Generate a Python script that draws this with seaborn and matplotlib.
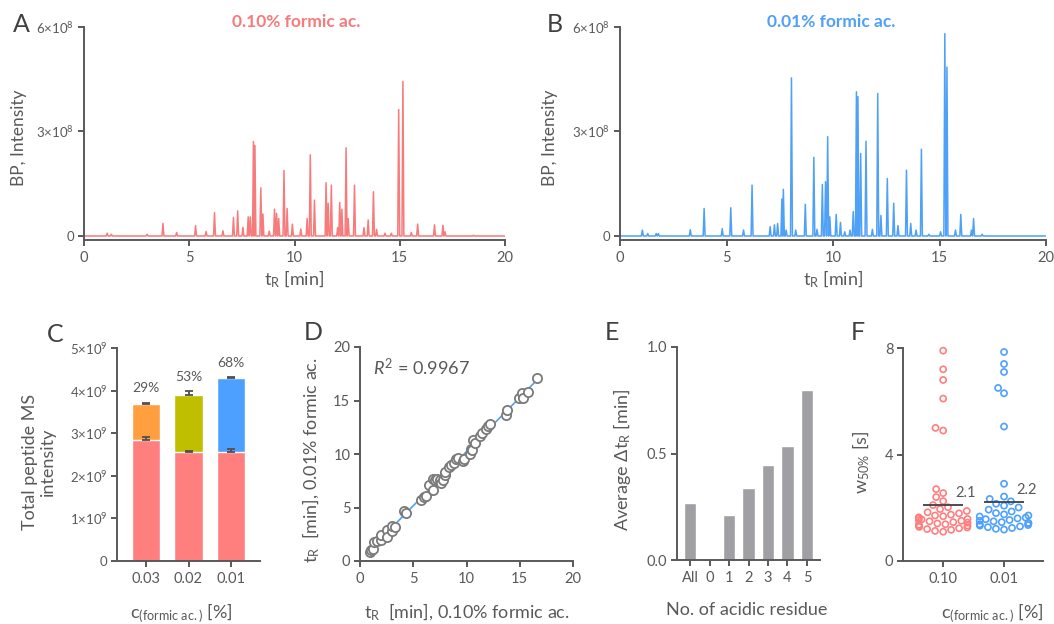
import numpy as np
import pandas as pd
import matplotlib
matplotlib.use("Agg")
import matplotlib.pyplot as plt
import seaborn as sns

# ---------------- data ----------------
# Panel A: 0.10 % formic acid chromatogram peaks (time [min], height [x1e8])
peaks_a_t = [1.1, 1.3, 3.0, 3.75, 4.4, 5.3, 5.8, 6.2, 6.6, 7.1,
             7.3, 7.55, 7.8, 7.9, 8.05, 8.12, 8.4, 8.5, 8.8, 9.05,
             9.15, 9.25, 9.5, 9.65, 9.9, 10.3, 10.6, 10.75, 10.95, 11.5,
             11.6, 11.75, 12.05, 12.15, 12.25, 12.45, 12.55, 12.85, 13.3, 13.5,
             13.75, 13.9, 14.3, 14.6, 14.95, 15.15, 15.55, 15.85, 16.65, 17.05,
             17.15, 18.5]
peaks_a_h = [0.08, 0.05, 0.05, 0.36, 0.10, 0.30, 0.13, 0.67, 0.15, 0.53,
             0.72, 0.25, 0.55, 0.55, 2.71, 2.60, 1.38, 0.63, 0.14, 0.77,
             0.65, 0.50, 1.88, 0.79, 0.34, 0.20, 0.50, 2.33, 1.03, 1.53,
             0.94, 1.46, 0.24, 0.96, 0.77, 2.53, 0.50, 1.46, 0.24, 0.46,
             1.27, 0.19, 0.08, 0.08, 3.63, 4.44, 0.10, 0.34, 0.32, 0.31,
             0.12, 0.02]
# Panel B: 0.01 % formic acid chromatogram peaks
peaks_b_t = [1.05, 1.3, 1.7, 1.8, 3.3, 3.95, 4.8, 5.2, 5.8, 6.2,
             7.05, 7.25, 7.4, 7.6, 7.67, 7.8, 8.05, 8.25, 8.7, 9.1,
             9.25, 9.5, 9.65, 9.75, 9.85, 10.15, 10.35, 10.55, 10.8, 10.95,
             11.1, 11.17, 11.3, 11.55, 11.85, 12.1, 12.25, 12.55, 12.85, 13.05,
             13.45, 13.65, 13.9, 14.15, 14.5, 15.05, 15.25, 15.35, 15.75, 16.0,
             16.5, 16.6, 17.0]
peaks_b_h = [0.17, 0.07, 0.07, 0.07, 0.18, 0.79, 0.21, 0.81, 0.17, 1.46,
             0.27, 0.32, 0.36, 1.06, 1.34, 0.17, 4.54, 0.17, 0.91, 2.26,
             0.19, 1.48, 1.56, 2.85, 0.55, 0.62, 0.39, 0.12, 0.17, 0.70,
             4.14, 4.00, 2.37, 2.72, 0.19, 4.09, 0.59, 1.65, 0.94, 0.30,
             1.89, 0.36, 0.17, 2.49, 0.05, 0.12, 5.81, 4.85, 0.17, 0.62,
             0.17, 0.50, 0.05]

# Panel C
conc_c = ["0.03", "0.02", "0.01"]
base_int = [2.83e9, 2.55e9, 2.55e9]
base_err = [0.09e9, 0.03e9, 0.07e9]
total_int = [3.69e9, 3.90e9, 4.30e9]
total_err = [0.03e9, 0.09e9, 0.02e9]
pct_labels = ["29%", "53%", "68%"]

# Panel D
tr_010 = [0.9, 1.0, 1.2, 1.3, 1.6, 2.0, 2.0, 2.5, 2.5, 3.0, 3.0, 3.3, 4.1, 4.3,
          5.7, 6.0, 6.2, 6.5, 6.9, 6.9, 7.0, 7.2, 7.5, 7.6, 7.8, 8.0, 8.0, 8.4,
          8.5, 8.8, 9.0, 9.2, 9.7, 9.8, 10.3, 10.4, 10.5, 10.6, 10.8, 11.3, 11.5,
          11.8, 12.0, 12.2, 13.7, 13.8, 14.9, 15.2, 15.3, 15.8, 16.6]
tr_001 = [0.8, 1.0, 1.1, 1.8, 1.9, 2.0, 2.4, 2.9, 2.2, 2.8, 3.3, 3.2, 4.7, 4.5,
          5.7, 6.0, 6.1, 7.1, 6.6, 7.7, 7.6, 7.7, 7.6, 7.3, 7.6, 8.0, 8.3, 8.8,
          9.0, 9.2, 9.5, 9.6, 9.3, 9.5, 10.0, 10.5, 10.4, 11.3, 11.0, 11.7, 12.0,
          12.3, 12.6, 12.8, 13.6, 14.1, 15.2, 15.7, 15.2, 15.8, 17.1]
r2_text = "0.9967"

# Panel E
residues = ["All", "0", "1", "2", "3", "4", "5"]
avg_dtr = [0.266, 0.0, 0.209, 0.338, 0.448, 0.535, 0.796]

# Panel F
w50_010 = [7.9, 7.2, 6.8, 6.1, 5.0, 4.9, 2.7, 2.55, 2.4, 2.25, 2.1, 2.02, 1.95,
           1.88, 1.83, 1.79, 1.74, 1.71, 1.68, 1.64, 1.61, 1.58, 1.56, 1.53,
           1.51, 1.49, 1.46, 1.44, 1.41, 1.38, 1.36, 1.33, 1.31, 1.28, 1.26,
           1.23, 1.2, 1.17, 1.13, 1.1]
w50_001 = [7.85, 7.4, 7.1, 6.5, 6.3, 5.05, 2.9, 2.42, 2.33, 2.24, 2.15, 2.08,
           2.01, 1.93, 1.86, 1.8, 1.75, 1.71, 1.67, 1.63, 1.6, 1.57, 1.54, 1.51,
           1.49, 1.46, 1.43, 1.41, 1.38, 1.35, 1.33, 1.3, 1.27, 1.24, 1.21, 1.18]
conc_f = ["0.10", "0.01"]
w50_means = [2.1, 2.2]

# ---------------- style ----------------
sns.set_theme(style="ticks")
GREY = "#595959"
RED = "#FF7F7F"
RED_LINE = "#F77B7B"
BLUE = "#4DA0FF"
BLUE_LINE = "#4FA0F7"
ORANGE = "#FF9F40"
OLIVE = "#BFBF00"
BARGREY = "#A0A0A4"
FONT = ["Lato", "DejaVu Sans"]
plt.rcParams["font.family"] = FONT
plt.rcParams.update({
    "mathtext.fontset": "custom",
    "mathtext.rm": "Lato",
    "mathtext.it": "Lato:italic",
    "mathtext.default": "regular",
    "axes.edgecolor": GREY, "axes.linewidth": 1.4,
    "xtick.color": GREY, "ytick.color": GREY,
    "xtick.labelcolor": GREY, "ytick.labelcolor": GREY,
    "text.color": GREY, "axes.labelcolor": GREY,
    "xtick.major.width": 1.4, "ytick.major.width": 1.4,
    "xtick.major.size": 4, "ytick.major.size": 4,
    "xtick.major.pad": 4, "ytick.major.pad": 3,
})

W, H = 1054, 624
fig = plt.figure(figsize=(W / 100, H / 100), dpi=100)


def add_ax(x0, x1, ytop, ybot):
    return fig.add_axes([x0 / W, 1 - ybot / H, (x1 - x0) / W, (ybot - ytop) / H])


def style(ax):
    sns.despine(ax=ax)
    ax.set_facecolor("none")


def sci(m, e):
    return "0" if m == 0 else f"{m}×10$^{{{e}}}$"


def trace(ts, hs, w=0.045):
    xs, ys = [0.0], [0.0]
    for t, h in sorted(zip(ts, hs)):
        xs += [t - w, t, t + w]
        ys += [0.0, h * 1e8, 0.0]
    xs.append(20.0)
    ys.append(0.0)
    return xs, ys


BOTTOM_LABEL_Y = -0.19

# ---------------- A & B ----------------
for (x0, x1, ts, hs, col, title, tx, letter, lx, lab_x) in [
        (84, 505, peaks_a_t, peaks_a_h, RED_LINE, "0.10% formic ac.", 296, "A", 21, -0.135),
        (620, 1046, peaks_b_t, peaks_b_h, BLUE_LINE, "0.01% formic ac.", 831, "B", 555, -0.146)]:
    ax = add_ax(x0, x1, 27, 240)
    xs, ys = trace(ts, hs)
    sns.lineplot(x=xs, y=ys, sort=False, estimator=None, color=col, lw=1.1, ax=ax)
    ax.set_xlim(0, 20)
    ax.set_ylim(-0.115e8, 6e8)
    ax.set_xticks([0, 5, 10, 15, 20])
    ax.set_xticklabels(["0", "5", "10", "15", "20"], fontsize=10.5)
    ax.set_yticks([0, 3e8, 6e8])
    ax.set_yticklabels([sci(0, 8), sci(3, 8), sci(6, 8)], fontsize=9.5)
    ax.set_xlabel("t$_R$ [min]", fontsize=13)
    ax.xaxis.set_label_coords(0.5, -0.135)
    ax.set_ylabel("BP, Intensity", fontsize=12.5)
    ax.yaxis.set_label_coords(lab_x, 0.48)
    style(ax)
    fig.text(tx / W, 1 - 22 / H, title, color=col, fontsize=12.5,
             fontweight="bold", ha="center", va="center")
    fig.text(lx / W, 1 - 24 / H, letter, fontsize=18, ha="center", va="center",
             color="#404040")

# ---------------- C ----------------
axc = add_ax(117, 260, 348, 561)
sns.barplot(x=conc_c, y=total_int, order=conc_c, hue=conc_c,
            palette=[ORANGE, OLIVE, BLUE], legend=False, width=0.67,
            saturation=1, ax=axc)
sns.barplot(x=conc_c, y=base_int, order=conc_c, color=RED, width=0.67,
            saturation=1, ax=axc)
pos = np.arange(len(conc_c))
axc.errorbar(pos, base_int, yerr=[np.zeros(3), base_err], fmt="none",
             ecolor="#505050", elinewidth=1.3, capsize=3, capthick=1.3)
axc.errorbar(pos, total_int, yerr=[np.zeros(3), total_err], fmt="none",
             ecolor="#505050", elinewidth=1.3, capsize=3, capthick=1.3)
for p, t, e, lab in zip(pos, total_int, total_err, pct_labels):
    axc.annotate(lab, (p, t + e), xytext=(0, 6), textcoords="offset points",
                 ha="center", va="bottom", fontsize=10, color=GREY)
axc.set_xlim(-0.68, 2.68)
axc.set_ylim(0, 5e9)
axc.set_yticks([0, 1e9, 2e9, 3e9, 4e9, 5e9])
axc.set_yticklabels([sci(i, 9) for i in range(6)], fontsize=9.5)
axc.tick_params(axis="x", labelsize=10.5)
axc.set_xlabel("c$_{(formic\\ ac.)}$ [%]", fontsize=13)
axc.xaxis.set_label_coords(0.45, BOTTOM_LABEL_Y)
axc.set_ylabel("Total peptide MS\nintensity", fontsize=13, linespacing=1.1)
axc.yaxis.set_label_coords(-0.43, 0.465)
style(axc)
fig.text(55 / W, 1 - 334 / H, "C", fontsize=18, ha="center", va="center", color="#404040")

# ---------------- D ----------------
axd = add_ax(360, 573, 347, 561)
dfd = pd.DataFrame({"x": tr_010, "y": tr_001})
sns.regplot(data=dfd, x="x", y="y", scatter=False, ci=None, ax=axd,
            line_kws=dict(color=BLUE_LINE, lw=1.2, zorder=1))
sns.scatterplot(data=dfd, x="x", y="y", s=44, facecolor="white",
                edgecolor="#7a7a7a", linewidth=1.3, ax=axd, zorder=3)
axd.set_xlim(0, 20)
axd.set_ylim(0, 20)
axd.set_xticks([0, 5, 10, 15, 20])
axd.set_yticks([0, 5, 10, 15, 20])
axd.tick_params(labelsize=10.5)
axd.text(0.06, 0.905, "$\\mathit{R}^2$ = " + r2_text, transform=axd.transAxes,
         fontsize=13, va="center", ha="left")
axd.set_xlabel("t$_R$  [min], 0.10% formic ac.", fontsize=13)
axd.xaxis.set_label_coords(0.5, BOTTOM_LABEL_Y)
axd.set_ylabel("t$_R$  [min], 0.01% formic ac.", fontsize=13)
axd.yaxis.set_label_coords(-0.178, 0.47)
style(axd)
fig.text(313 / W, 1 - 333 / H, "D", fontsize=18, ha="center", va="center", color="#404040")

# ---------------- E ----------------
axe = add_ax(677, 820, 347, 560)
sns.barplot(x=residues, y=avg_dtr, order=residues, color=BARGREY, width=0.65,
            saturation=1, ax=axe)
axe.set_xlim(-0.67, 6.67)
axe.set_ylim(0, 1.0)
axe.set_yticks([0, 0.5, 1.0])
axe.set_yticklabels(["0.0", "0.5", "1.0"])
axe.tick_params(labelsize=10.5)
axe.set_xlabel("No. of acidic residue", fontsize=13)
axe.xaxis.set_label_coords(0.49, BOTTOM_LABEL_Y - 0.005)
axe.set_ylabel("Average Δt$_R$ [min]", fontsize=13)
axe.yaxis.set_label_coords(-0.308, 0.47)
style(axe)
fig.text(612 / W, 1 - 333 / H, "E", fontsize=18, ha="center", va="center", color="#404040")

# ---------------- F ----------------
axf = add_ax(903, 1043, 348, 561)
dff = pd.DataFrame({
    "c": [conc_f[0]] * len(w50_010) + [conc_f[1]] * len(w50_001),
    "w": w50_010 + w50_001,
})
sns.swarmplot(data=dff, x="c", y="w", hue="c", order=conc_f, hue_order=conc_f,
              palette=[RED, BLUE], size=4.4, legend=False, ax=axf, warn_thresh=1)
for coll in axf.collections:
    fc = coll.get_facecolor()
    coll.set_edgecolor(fc)
    coll.set_facecolor("none")
    coll.set_linewidth(1.2)
    coll.set_clip_on(False)
fpos = np.arange(len(conc_f))
axf.hlines(w50_means, fpos - 0.33, fpos + 0.33, color="#404040", lw=1.3, zorder=5)
for p, m in zip(fpos, w50_means):
    axf.text(p + 0.2, m + 0.45, f"{m:.1f}", fontsize=10.5, ha="left", va="center")
axf.set_xlim(-0.66, 1.64)
axf.set_ylim(0, 8)
axf.set_yticks([0, 4, 8])
axf.tick_params(labelsize=10.5)
axf.set_xlabel("c$_{(formic\\ ac.)}$ [%]", fontsize=13)
axf.xaxis.set_label_coords(0.64, BOTTOM_LABEL_Y)
axf.set_ylabel("w$_{50\\%}$ [s]", fontsize=13)
axf.yaxis.set_label_coords(-0.22, 0.465)
style(axf)
fig.text(858 / W, 1 - 333 / H, "F", fontsize=18, ha="center", va="center", color="#404040")

fig.savefig("out.png", dpi=100)
